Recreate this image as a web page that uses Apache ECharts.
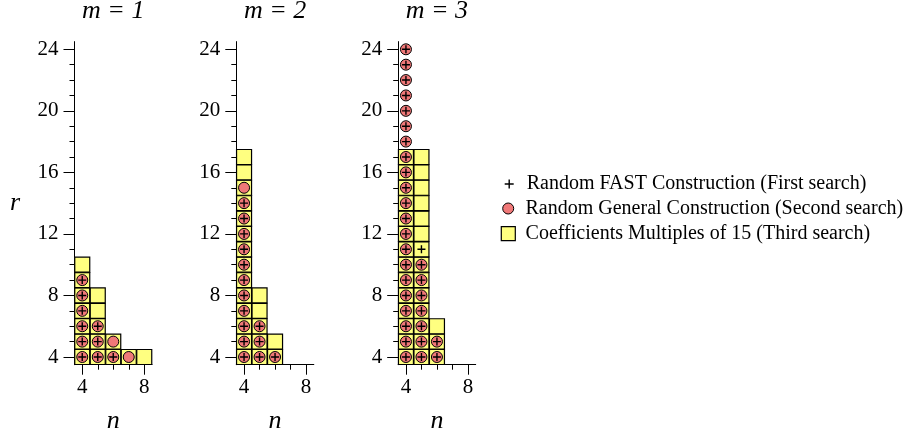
<!DOCTYPE html>
<html>
<head>
<meta charset="utf-8">
<script src="https://cdn.jsdelivr.net/npm/echarts@6/dist/echarts.min.js"></script>
<style>
html,body{margin:0;padding:0;background:#fff;}
#chart{width:908px;height:437px;}
</style>
</head>
<body>
<div id="chart"></div>
<script>
// ---- data ----
const panelTitles = ['m = 1', 'm = 2', 'm = 3'];
const seriesNames = [
  'Random FAST Construction (First search)',
  'Random General Construction (Second search)',
  'Coefficients Multiples of 15 (Third search)'
];
const yMajorTicks = [4, 8, 12, 16, 20, 24];
const yMinorTicks = [5, 6, 7, 9, 10, 11, 13, 14, 15, 17, 18, 19, 21, 22, 23];
const xMajorTicks = [4, 8];
const xMinorTicks = [5, 6, 7];

// [n, r] points, m = 1
const third_m1 = [[4,4],[4,5],[4,6],[4,7],[4,8],[4,9],[4,10],[5,4],[5,5],[5,6],[5,7],[5,8],[6,4],[6,5],[7,4],[8,4]];
const second_m1 = [[4,4],[4,5],[4,6],[4,7],[4,8],[4,9],[5,4],[5,5],[5,6],[6,4],[6,5],[7,4]];
const first_m1 = [[4,4],[4,5],[4,6],[4,7],[4,8],[4,9],[5,4],[5,5],[5,6],[6,4]];
// m = 2
const third_m2 = [[4,4],[4,5],[4,6],[4,7],[4,8],[4,9],[4,10],[4,11],[4,12],[4,13],[4,14],[4,15],[4,16],[4,17],[5,4],[5,5],[5,6],[5,7],[5,8],[6,4],[6,5]];
const second_m2 = [[4,4],[4,5],[4,6],[4,7],[4,8],[4,9],[4,10],[4,11],[4,12],[4,13],[4,14],[4,15],[5,4],[5,5],[5,6],[6,4]];
const first_m2 = [[4,4],[4,5],[4,6],[4,7],[4,8],[4,9],[4,10],[4,11],[4,12],[4,13],[4,14],[5,4],[5,5],[5,6],[6,4]];
// m = 3
const third_m3 = [[4,4],[4,5],[4,6],[4,7],[4,8],[4,9],[4,10],[4,11],[4,12],[4,13],[4,14],[4,15],[4,16],[4,17],[5,4],[5,5],[5,6],[5,7],[5,8],[5,9],[5,10],[5,11],[5,12],[5,13],[5,14],[5,15],[5,16],[5,17],[6,4],[6,5],[6,6]];
const second_m3 = [[4,4],[4,5],[4,6],[4,7],[4,8],[4,9],[4,10],[4,11],[4,12],[4,13],[4,14],[4,15],[4,16],[4,17],[4,18],[4,19],[4,20],[4,21],[4,22],[4,23],[4,24],[5,4],[5,5],[5,6],[5,7],[5,8],[5,9],[5,10],[6,4],[6,5]];
const first_m3 = [[4,4],[4,5],[4,6],[4,7],[4,8],[4,9],[4,10],[4,11],[4,12],[4,13],[4,14],[4,15],[4,16],[4,17],[4,18],[4,19],[4,20],[4,21],[4,22],[4,23],[4,24],[5,4],[5,5],[5,6],[5,7],[5,8],[5,9],[5,10],[5,11],[6,4],[6,5]];

const thirdData = [third_m1, third_m2, third_m3];
const secondData = [second_m1, second_m2, second_m3];
const firstData = [first_m1, first_m2, first_m3];

// ---- layout / style ----
const FONT = "'Liberation Serif', serif";
const gridLefts = [74.5, 236.3, 398.2];
const gridTop = 41.6, gridW = 77.5, gridH = 323.1;
const plusPath = 'path://M4,0L4,8M0,4L8,4';
const SQ_COLOR = '#ffff80', CI_COLOR = '#f07878';

const chart = echarts.init(document.getElementById('chart'), null, {renderer: 'canvas'});

const grids = [], xAxes = [], yAxes = [], series = [];
const lineStyle = {color: '#000', width: 1};
const nameStyle = {fontFamily: FONT, fontSize: 26, fontStyle: 'italic', color: '#000'};
const labelStyle = {fontFamily: FONT, fontSize: 21, color: '#000', fontWeight: 'normal', fontStyle: 'normal'};
panelTitles.forEach((t, i) => {
  grids.push({left: gridLefts[i], top: gridTop, width: gridW, height: gridH,
    containLabel: false, outerBoundsMode: 'none'});
  const xBase = xAxes.length, yBase = yAxes.length;
  xAxes.push({
    type: 'value', gridIndex: i, min: 3.5, max: 8.5, position: 'bottom',
    axisLine: {show: true, onZero: false, lineStyle},
    axisTick: {show: true, length: 10, inside: false, customValues: xMajorTicks, lineStyle},
    axisLabel: Object.assign({show: true, customValues: xMajorTicks, margin: 12.5}, labelStyle),
    splitLine: {show: false},
    name: 'n', nameLocation: 'middle', nameGap: 43,
    nameTextStyle: nameStyle
  });
  xAxes.push({
    type: 'value', gridIndex: i, min: 3.5, max: 8.5, position: 'bottom',
    axisLine: {show: false, onZero: false},
    axisTick: {show: true, length: 5, customValues: xMinorTicks, lineStyle},
    axisLabel: {show: false}, splitLine: {show: false}
  });
  xAxes.push({
    type: 'value', gridIndex: i, min: 3.5, max: 8.5, position: 'top',
    axisLine: {show: false}, axisTick: {show: false}, axisLabel: {show: false}, splitLine: {show: false},
    name: t, nameLocation: 'middle', nameGap: 17,
    nameTextStyle: nameStyle
  });
  yAxes.push({
    type: 'value', gridIndex: i, min: 3.5, max: 24.5, position: 'left',
    axisLine: {show: true, onZero: false, lineStyle},
    axisTick: {show: true, length: 11, customValues: yMajorTicks, lineStyle},
    axisLabel: Object.assign({show: true, customValues: yMajorTicks, margin: 16}, labelStyle),
    splitLine: {show: false},
    name: i === 0 ? 'r' : '', nameLocation: 'middle', nameGap: 54.5, nameRotate: 0,
    nameTextStyle: Object.assign({padding: [0, 0, 10, 0]}, nameStyle)
  });
  yAxes.push({
    type: 'value', gridIndex: i, min: 3.5, max: 24.5, position: 'left',
    axisLine: {show: false, onZero: false},
    axisTick: {show: true, length: 5, customValues: yMinorTicks, lineStyle},
    axisLabel: {show: false}, splitLine: {show: false}
  });
  series.push({
    type: 'scatter', name: seriesNames[2], xAxisIndex: xBase, yAxisIndex: yBase,
    data: thirdData[i], symbol: 'rect', symbolSize: 15, z: 2,
    itemStyle: {color: SQ_COLOR, borderColor: '#000', borderWidth: 1.2, opacity: 1},
    emphasis: {disabled: true}
  });
  series.push({
    type: 'scatter', name: seriesNames[1], xAxisIndex: xBase, yAxisIndex: yBase,
    data: secondData[i], symbol: 'circle', symbolSize: 11, z: 3,
    itemStyle: {color: CI_COLOR, borderColor: '#000', borderWidth: 1, opacity: 1},
    emphasis: {disabled: true}
  });
  series.push({
    type: 'scatter', name: seriesNames[0], xAxisIndex: xBase, yAxisIndex: yBase,
    data: firstData[i], symbol: plusPath, symbolSize: 8, z: 4,
    itemStyle: {color: 'rgba(0,0,0,0)', borderColor: '#000', borderWidth: 1.4, opacity: 1},
    emphasis: {disabled: true}
  });
});

const legendText = {fontFamily: FONT, fontSize: 20, color: '#000', lineHeight: 22};
const legends = [
  {data: [{name: seriesNames[0], icon: plusPath, itemStyle: {color: 'rgba(0,0,0,0)', borderColor: '#000', borderWidth: 1.4}}],
   left: 504, top: 173, itemWidth: 9, itemHeight: 9, textStyle: Object.assign({padding: [0,0,0,8]}, legendText)},
  {data: [{name: seriesNames[1], icon: 'circle', itemStyle: {color: CI_COLOR, borderColor: '#000', borderWidth: 1}}],
   left: 502.2, top: 197.5, itemWidth: 11, itemHeight: 11, textStyle: Object.assign({padding: [0,0,0,6.8]}, legendText)},
  {data: [{name: seriesNames[2], icon: 'rect', itemStyle: {color: SQ_COLOR, borderColor: '#000', borderWidth: 1.2}}],
   left: 500.7, top: 222.7, itemWidth: 14, itemHeight: 14, textStyle: Object.assign({padding: [0,0,0,5.3]}, legendText)}
].map(l => Object.assign({orient: 'vertical', selectedMode: false, padding: 0, itemGap: 0, inactiveColor: '#000'}, l));

chart.setOption({
  animation: false,
  backgroundColor: '#fff',
  textStyle: {fontFamily: FONT, color: '#000'},
  grid: grids,
  xAxis: xAxes,
  yAxis: yAxes,
  legend: legends,
  series: series
});
</script>
</body>
</html>
